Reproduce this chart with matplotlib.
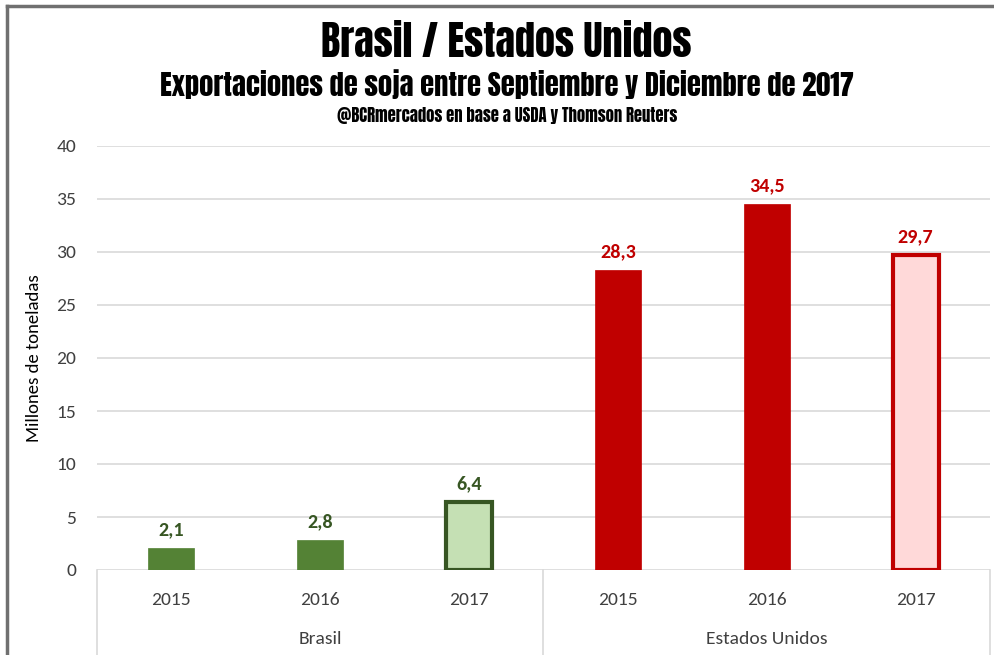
import matplotlib
matplotlib.use("Agg")
import matplotlib.pyplot as plt
import matplotlib.transforms as mtransforms
from matplotlib.lines import Line2D

# data
groups = ["Brasil", "Estados Unidos"]
years = ["2015", "2016", "2017"]
brasil = [2.1, 2.8, 6.4]
eeuu = [28.3, 34.5, 29.7]

values = brasil + eeuu
tick_labels = years + years
face_colors = ["#548235", "#548235", "#c5e0b4", "#c00000", "#c00000", "#ffd9d9"]
edge_colors = ["#548235", "#548235", "#375623", "#c00000", "#c00000", "#c00000"]
edge_widths = [0.5, 0.5, 3.0, 0.5, 0.5, 3.0]
label_colors = ["#375623"] * 3 + ["#c00000"] * 3

body_font = "Carlito"
title_font = "Anton"

W, H = 995, 655
fig = plt.figure(figsize=(W / 100, H / 100), dpi=100)
ax = fig.add_axes([97 / W, 85 / H, 893 / W, 424 / H])

x = list(range(len(values)))
ax.bar(x, values, width=0.31, color=face_colors, edgecolor=edge_colors,
       linewidth=edge_widths, zorder=3)

for xi, v, c in zip(x, values, label_colors):
    ax.annotate(f"{v:.1f}".replace(".", ","), (xi, v), xytext=(0, 7),
                textcoords="offset points", ha="center", va="bottom",
                fontsize=14.5, fontweight="bold", color=c, family=body_font)

ax.set_xlim(-0.5, 5.5)
ax.set_ylim(0, 40)
ax.set_yticks(range(0, 41, 5))
ax.yaxis.grid(True, color="#d9d9d9", linewidth=1.2, zorder=0)
ax.set_axisbelow(True)
for s in ax.spines.values():
    s.set_visible(False)
ax.tick_params(axis="y", length=0, pad=15, labelsize=14, labelcolor="#404040")
ax.tick_params(axis="x", length=0, pad=16, labelsize=14, labelcolor="#404040")
ax.set_xticks(x)
ax.set_xticklabels(tick_labels)
for lbl in ax.get_xticklabels() + ax.get_yticklabels():
    lbl.set_family(body_font)
ax.set_ylabel("Millones de toneladas", fontsize=13.5, color="black",
              family=body_font, labelpad=10)

# group labels and separators below the axis
trans = mtransforms.blended_transform_factory(ax.transData, ax.transAxes)
for i, g in enumerate(groups):
    ax.text(i * 3 + 1, -69 / 424, g, transform=trans, ha="center", va="center",
            fontsize=14, color="#404040", family=body_font)
for xs in [-0.5, 2.5, 5.5]:
    ax.add_line(Line2D([xs, xs], [0, -90 / 424], transform=trans, color="#d9d9d9",
                       linewidth=1.2, clip_on=False))

# titles
fig.text(506 / W, 1 - 42 / H, "Brasil / Estados Unidos", ha="center", va="center",
         fontsize=29, family=title_font)
fig.text(507 / W, 1 - 84 / H, "Exportaciones de soja entre Septiembre y Diciembre de 2017",
         ha="center", va="center", fontsize=20.5, family=title_font)
fig.text(507 / W, 1 - 115 / H, "@BCRmercados en base a USDA y Thomson Reuters",
         ha="center", va="center", fontsize=12, family=title_font)

# outer frame (left and top)
fig.add_artist(Line2D([7 / W, 7 / W], [0, 1 - 6 / H], transform=fig.transFigure,
                      color="#707070", linewidth=2.5))
fig.add_artist(Line2D([7 / W, 1], [1 - 6 / H, 1 - 6 / H], transform=fig.transFigure,
                      color="#707070", linewidth=2.5))

fig.savefig("out.png", dpi=100)
